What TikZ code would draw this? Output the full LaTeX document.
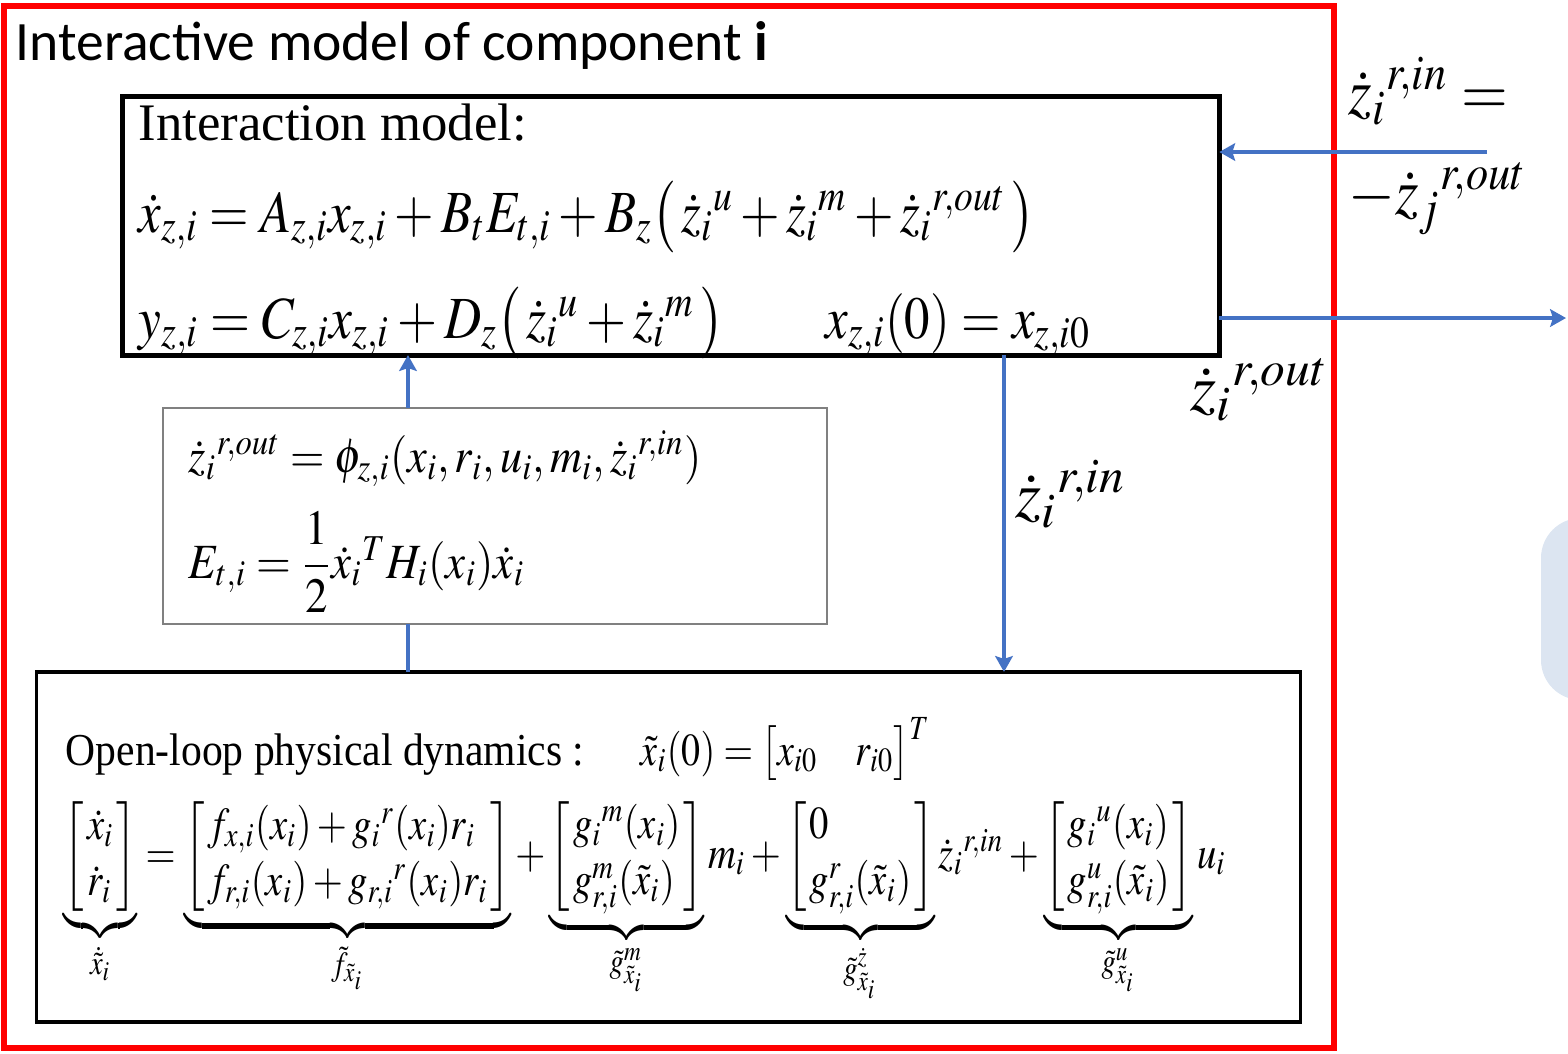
\documentclass[tikz,border=0pt]{standalone}
\usepackage{amsmath}
\usepackage{graphicx}
\usepackage{mathptmx}
\usepackage{fontspec}
\setmainfont{Liberation Serif}
\newfontfamily\calibri{Carlito}
\usetikzlibrary{arrows.meta}

\definecolor{linkblue}{HTML}{4472C4}
\definecolor{paleblue}{HTML}{DCE5F1}
\newcommand{\sqz}[2]{\scalebox{#1}[1]{#2}}

\begin{document}
\begin{tikzpicture}[x=0.01cm,y=-0.01cm,
    flow/.style={linkblue,line width=1pt,-{Stealth[length=4.5pt,width=5pt,inset=0.8pt]}},
    link/.style={linkblue,line width=1.1pt},
    frame/.style={draw,inner sep=0pt,outer sep=0pt},
    lbl/.style={anchor=base west,inner sep=0pt}]
  \useasboundingbox (0,0) rectangle (1568,1053);
  \fill[paleblue,rounded corners=0.4cm] (1541,518) rectangle (1640,700);

  % boxes
  \node[frame,draw=red,line width=1.7pt,minimum width=13.30cm,minimum height=10.42cm] (comp) at (669,527) {};
  \node[frame,line width=1.4pt,minimum width=10.96cm,minimum height=2.58cm] (im) at (671,226) {};
  \node[frame,draw=black!50,line width=0.6pt,minimum width=6.64cm,minimum height=2.16cm] (mid) at (495,516) {};
  \node[frame,line width=1pt,minimum width=12.63cm,minimum height=3.50cm] (phy) at (668.5,847) {};

  \node[lbl,font=\calibri\fontsize{15.8}{18}\selectfont] (title) at (15,60)
    {Interactive model of component \textbf{i}};

  % interaction model
  \node[lbl,font=\fontsize{15}{18}\selectfont] (imname) at (138,140) {Interaction model:};
  \node[lbl,font=\fontsize{17}{20}\selectfont] (eqx) at (138,232)
    {\sqz{0.85}{$\dot{x}_{z,i} = A_{z,i}x_{z,i} + B_tE_{t,i} + B_z\bigl(\,\dot{z}_i{}^{u} + \dot{z}_i{}^{m} + \dot{z}_i{}^{r,out}\,\bigr)$}};
  \node[lbl,font=\fontsize{17}{20}\selectfont] (eqy) at (138,338)
    {\sqz{0.86}{$y_{z,i} = C_{z,i}x_{z,i} + D_z\bigl(\,\dot{z}_i{}^{u} + \dot{z}_i{}^{m}\,\bigr)$}};
  \node[lbl,font=\fontsize{17}{20}\selectfont] (eqinit) at (825,338)
    {\sqz{0.85}{$x_{z,i}(0) = x_{z,i0}$}};

  % coupling
  \node[lbl,font=\fontsize{14}{17}\selectfont] (eqphi) at (188,472)
    {\sqz{0.9}{$\dot{z}_i{}^{r,out} = \phi_{z,i}(x_i,r_i,u_i,m_i,\dot{z}_i{}^{r,in})$}};
  \node[anchor=west,inner sep=0pt,font=\fontsize{14}{17}\selectfont] (eqE) at (188,562)
    {\sqz{0.91}{$E_{t,i} = \dfrac{1}{2}\dot{x}_i{}^{T}H_i(x_i)\dot{x}_i$}};

  % physical dynamics
  \node[lbl,font=\fontsize{13}{16}\selectfont] (phyname) at (65,765) {\sqz{0.91}{Open-loop physical dynamics :}};
  \node[lbl,font=\fontsize{13}{16}\selectfont] (init) at (640,765)
    {\sqz{0.83}{$\tilde{x}_i(0) = \bigl[x_{i0}\quad r_{i0}\bigr]^{T}$}};
  \node[lbl,font=\fontsize{13}{16}\selectfont] (eqphy) at (63,868)
    {\setlength{\arraycolsep}{1pt}\sqz{0.845}{$\underbrace{\left[\begin{array}{l}\dot{x}_i\\ \dot{r}_i\end{array}\right]}_{\dot{\tilde{x}}_i}
      = \underbrace{\left[\begin{array}{l}f_{x,i}(x_i)+g_i{}^{r}(x_i)r_i\\ f_{r,i}(x_i)+g_{r,i}{}^{r}(x_i)r_i\end{array}\right]}_{\tilde{f}_{\tilde{x}_i}}
      + \underbrace{\left[\begin{array}{l}g_i{}^{m}(x_i)\\ g^{m}_{r,i}(\tilde{x}_i)\end{array}\right]}_{\tilde{g}^{m}_{\tilde{x}_i}}m_i
      + \underbrace{\left[\begin{array}{l}0\\ g^{r}_{r,i}(\tilde{x}_i)\end{array}\right]}_{\tilde{g}^{\dot{z}}_{\tilde{x}_i}}\dot{z}_i{}^{r,in}
      + \underbrace{\left[\begin{array}{l}g_i{}^{u}(x_i)\\ g^{u}_{r,i}(\tilde{x}_i)\end{array}\right]}_{\tilde{g}^{u}_{\tilde{x}_i}}u_i$}};

  % connectors
  \coordinate (xa) at (408,0);
  \coordinate (xb) at (1004,0);
  \coordinate (zin) at (1487,152);
  \coordinate (zout) at (1566,318);
  \draw[flow] (mid.north -| xa) -- (im.south -| xa);
  \draw[link] (phy.north -| xa) -- (mid.south -| xa);
  \draw[flow] (im.south -| xb) -- (phy.north -| xb);
  \draw[flow] (zin) -- (zin -| im.east);
  \draw[flow] (zout -| im.east) -- (zout);

  % signal labels
  \node[lbl,font=\fontsize{19}{22}\selectfont] (zinlbl) at (1348,114) {\sqz{0.9}{$\dot{z}_i{}^{r,in} =$}};
  \node[lbl,font=\fontsize{19}{22}\selectfont] (zjlbl) at (1348,214) {\sqz{0.9}{$-\dot{z}_j{}^{r,out}$}};
  \node[lbl,font=\fontsize{19}{22}\selectfont] (zoutlbl) at (1190,410) {$\dot{z}_i{}^{r,out}$};
  \node[lbl,font=\fontsize{19}{22}\selectfont] (zmidlbl) at (1015,517) {$\dot{z}_i{}^{r,in}$};
\end{tikzpicture}
\end{document}
